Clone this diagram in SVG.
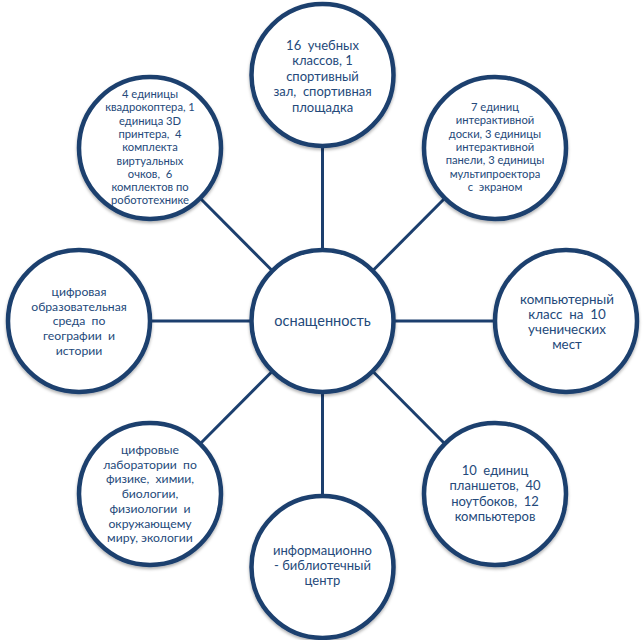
<svg xmlns="http://www.w3.org/2000/svg" width="643" height="640" viewBox="0 0 643 640">
<style>
.node circle{fill:#ffffff;stroke:#1c3f6e;stroke-width:4.5;filter:url(#sh)}
.conn line{stroke:#1c3f6e;stroke-width:3}
text{font-family:Lato,"Noto Sans",sans-serif;fill:#24497a;text-anchor:middle;white-space:pre}
.s11{font-size:11.2px}
.s12{font-size:12.2px}
.s13{font-size:13px}
.s133{font-size:13.4px}
.s14{font-size:14.5px}
</style>
<defs>
<filter id="sh" x="-20%" y="-20%" width="140%" height="150%">
<feDropShadow dx="0" dy="2" stdDeviation="1.5" flood-color="#000" flood-opacity="0.3"/>
</filter>
</defs>
<rect width="643" height="640" fill="#ffffff"/>
<g id="connectors" class="conn">
<line x1="322.5" y1="146" x2="322.5" y2="250"/>
<line x1="322.5" y1="392" x2="322.5" y2="496"/>
<line x1="150" y1="321" x2="251.5" y2="321"/>
<line x1="393.5" y1="321" x2="495" y2="321"/>
<line x1="200.2" y1="198.2" x2="272.3" y2="270.8"/>
<line x1="444.8" y1="198.2" x2="372.7" y2="270.8"/>
<line x1="200.2" y1="443.8" x2="272.3" y2="371.2"/>
<line x1="444.8" y1="443.8" x2="372.7" y2="371.2"/>
</g>
<g id="center" class="node">
<circle cx="322.5" cy="321" r="71"/>
<text class="s14" x="322.5" y="326">оснащенность</text>
</g>
<g id="top" class="node">
<circle cx="322.5" cy="75" r="71"/>
<text class="s13"><tspan x="322.5" y="49.5">16  учебных</tspan><tspan x="322.5" y="65">классов, 1</tspan><tspan x="322.5" y="80.5">спортивный</tspan><tspan x="322.5" y="96">зал,  спортивная</tspan><tspan x="322.5" y="111.5">площадка</tspan></text>
</g>
<g id="top-left" class="node">
<circle cx="150" cy="148" r="71"/>
<text class="s11"><tspan x="150" y="98">4 единицы</tspan><tspan x="150" y="111.3">квадрокоптера, 1</tspan><tspan x="150" y="124.6">единица 3D</tspan><tspan x="150" y="137.9">принтера,  4</tspan><tspan x="150" y="151.2">комплекта</tspan><tspan x="150" y="164.5">виртуальных</tspan><tspan x="150" y="177.8">очков,  6</tspan><tspan x="150" y="191.1">комплектов по</tspan><tspan x="150" y="204.4">робототехнике</tspan></text>
</g>
<g id="top-right" class="node">
<circle cx="495" cy="148" r="71"/>
<text class="s11"><tspan x="495" y="111">7 единиц</tspan><tspan x="495" y="124.3">интерактивной</tspan><tspan x="495" y="137.6">доски, 3 единицы</tspan><tspan x="495" y="150.9">интерактивной</tspan><tspan x="495" y="164.2">панели, 3 единицы</tspan><tspan x="495" y="177.5">мультипроектора</tspan><tspan x="495" y="190.8">с  экраном</tspan></text>
</g>
<g id="left" class="node">
<circle cx="79" cy="321" r="71"/>
<text class="s12"><tspan x="79" y="296">цифровая</tspan><tspan x="79" y="310.7">образовательная</tspan><tspan x="79" y="325.4">среда  по</tspan><tspan x="79" y="340.1">географии  и</tspan><tspan x="79" y="354.8">истории</tspan></text>
</g>
<g id="right" class="node">
<circle cx="566" cy="321" r="71"/>
<text class="s133"><tspan x="567" y="303.5">компьютерный</tspan><tspan x="567" y="318.5">класс  на  10</tspan><tspan x="567" y="333.5">ученических</tspan><tspan x="567" y="348.5">мест</tspan></text>
</g>
<g id="bottom-left" class="node">
<circle cx="150" cy="494" r="71"/>
<text class="s12"><tspan x="150" y="454">цифровые</tspan><tspan x="150" y="468.7">лаборатории  по</tspan><tspan x="150" y="483.4">физике,  химии,</tspan><tspan x="150" y="498.1">биологии,</tspan><tspan x="150" y="512.8">физиологии  и</tspan><tspan x="150" y="527.5">окружающему</tspan><tspan x="150" y="542.2">миру, экологии</tspan></text>
</g>
<g id="bottom-right" class="node">
<circle cx="495" cy="494" r="71"/>
<text class="s13"><tspan x="495" y="474.5">10  единиц</tspan><tspan x="495" y="490">планшетов,  40</tspan><tspan x="495" y="505.5">ноутбоков,  12</tspan><tspan x="495" y="521">компьютеров</tspan></text>
</g>
<g id="bottom" class="node">
<circle cx="322.5" cy="567" r="71"/>
<text class="s13"><tspan x="322.5" y="554.5">информационно</tspan><tspan x="322.5" y="569.8">- библиотечный</tspan><tspan x="322.5" y="585.1">центр</tspan></text>
</g>
</svg>
